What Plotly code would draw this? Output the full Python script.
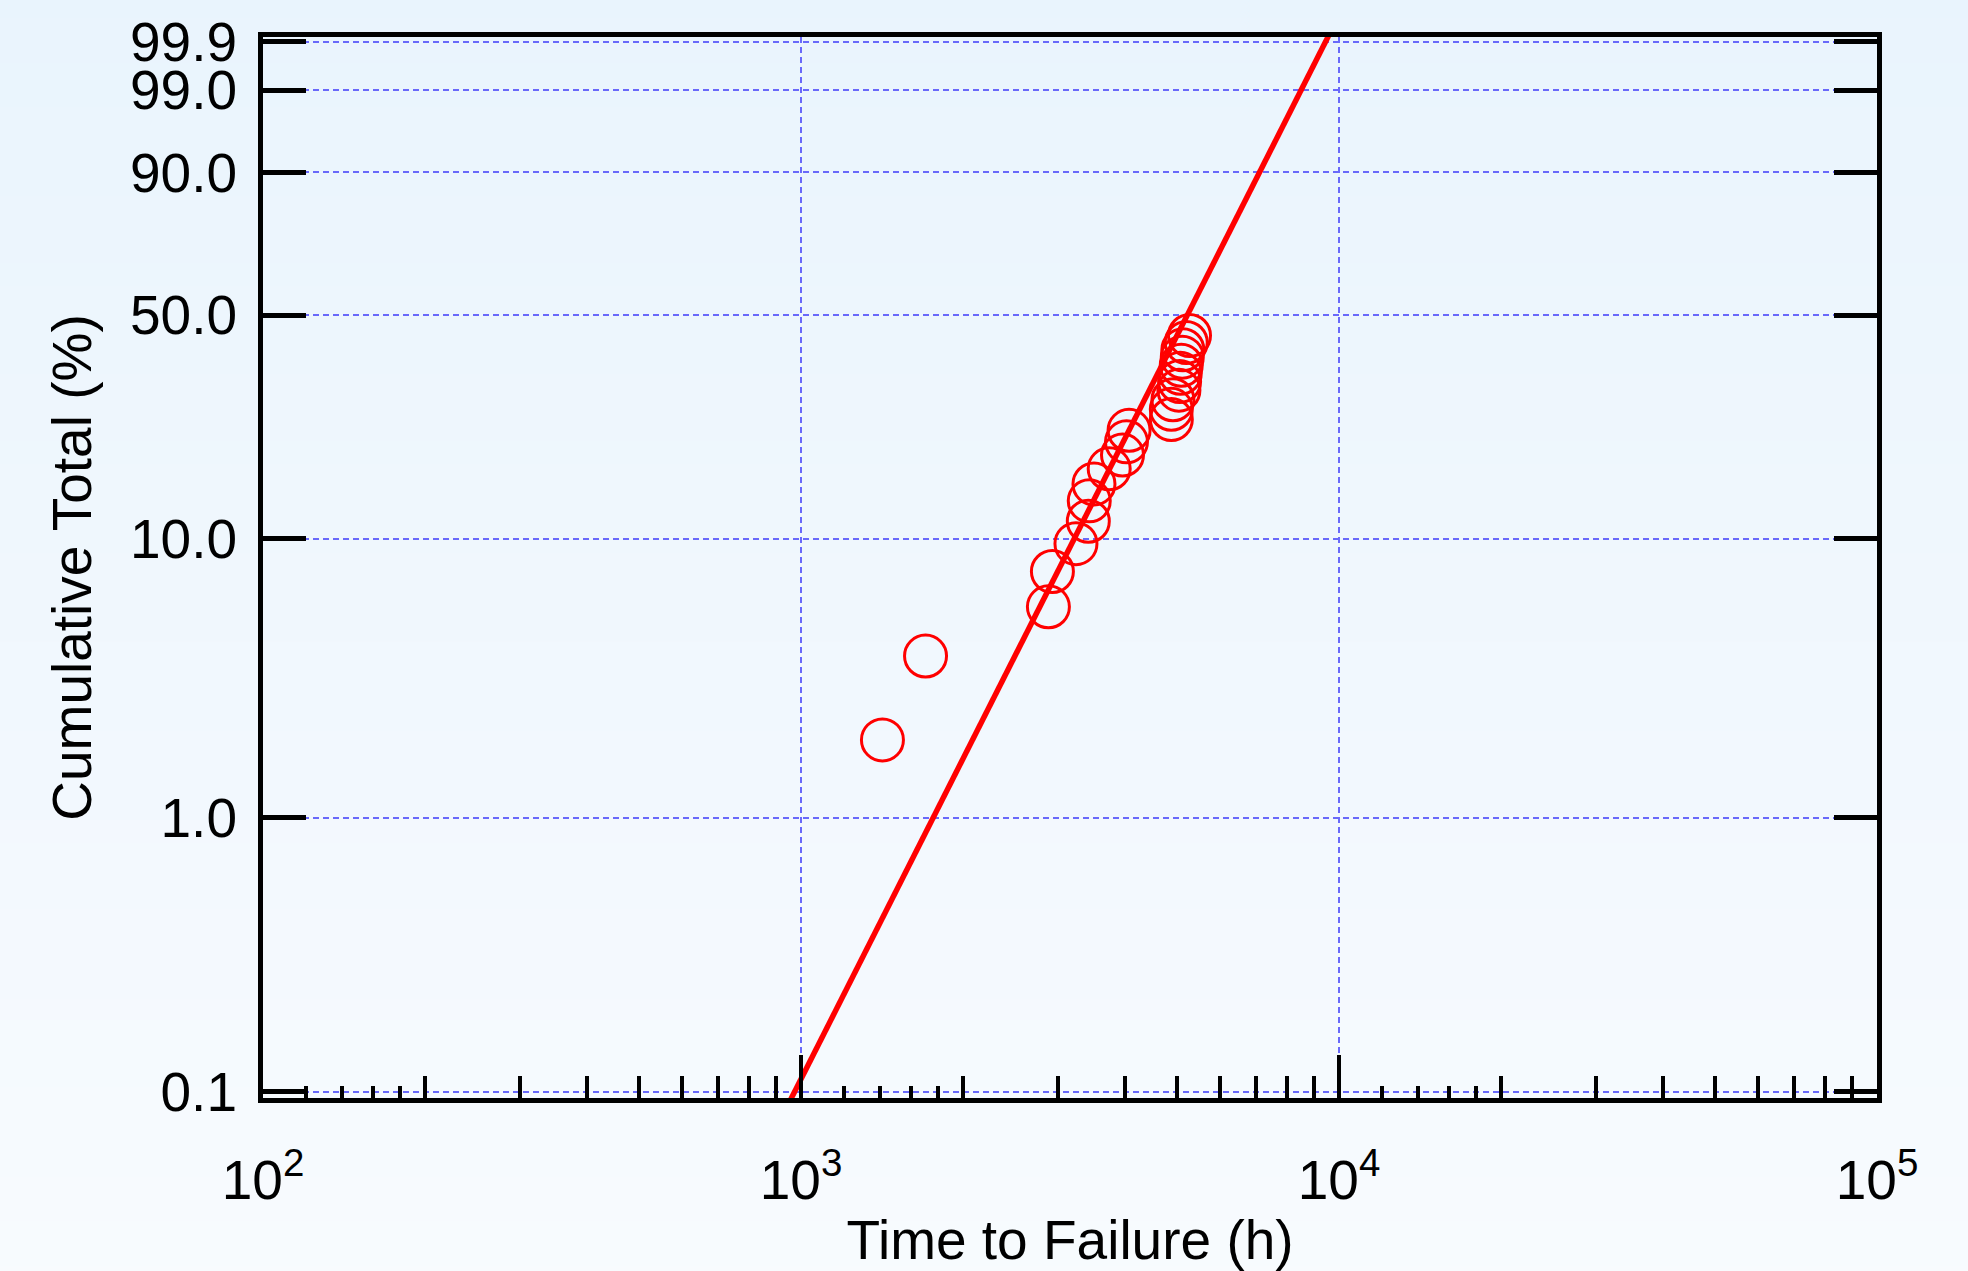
import math
import plotly.graph_objects as go

# ---------------- data ----------------
time_h = [1417, 1704, 2883, 2933, 3244, 3420, 3434, 3504, 3740, 3959, 4027, 4072,
          4879, 4879, 4913, 5040, 5055, 5070, 5091, 5113, 5126, 5201, 5274]
cum_pct = [1.92, 3.85, 5.77, 7.69, 9.62, 11.5, 13.5, 15.4, 17.3, 19.2, 21.2, 23.1,
           25.0, 26.9, 28.8, 30.8, 32.7, 34.6, 36.5, 38.5, 40.4, 42.3, 44.2]

# Weibull fit parameters
beta = 3.89
eta = 5742.0

y_tick_pct = [0.1, 1.0, 10.0, 50.0, 90.0, 99.0, 99.9]
y_tick_text = ["0.1", "1.0", "10.0", "50.0", "90.0", "99.0", "99.9"]
x_major = [100, 1000, 10000, 100000]
x_major_text = ["10<sup>2</sup>", "10<sup>3</sup>", "10<sup>4</sup>", "10<sup>5</sup>"]
x_minor_long = [m * d for d in (100, 1000, 10000) for m in (2, 3, 4, 5, 6, 7, 8, 9)]
x_minor_short = [m * d for d in (100, 1000, 10000) for m in (1.2, 1.4, 1.6, 1.8)]


def weib(p):
    """Weibull probability-paper scale: ln(-ln(1-F))."""
    return math.log(-math.log(1.0 - p / 100.0))


y_pts = [weib(p) for p in cum_pct]
y_ticks = [weib(p) for p in y_tick_pct]

# fitted line across the full vertical range
w_line = [-7.3, 2.3]
t_line = [eta * math.exp(w / beta) for w in w_line]

Y_RANGE = [-6.958, 1.974]
X_RANGE = [2, 5]

FONT = "Liberation Sans, Arial, Helvetica, sans-serif"
GRID = "rgb(105,105,250)"

fig = go.Figure()

fig.add_trace(go.Scatter(
    x=t_line, y=w_line, mode="lines",
    line=dict(color="rgb(255,0,0)", width=5.5),
    hoverinfo="skip", showlegend=False,
))
fig.add_trace(go.Scatter(
    x=time_h, y=y_pts, mode="markers",
    marker=dict(symbol="circle-open", size=42, color="rgb(255,0,0)",
                line=dict(color="rgb(255,0,0)", width=3)),
    text=[f"{p}%" for p in cum_pct],
    showlegend=False,
))
# helper trace to carry the overlay axis for the short minor ticks
fig.add_trace(go.Scatter(
    x=[1000], y=[0], xaxis="x2", mode="markers",
    marker=dict(opacity=0), hoverinfo="skip", showlegend=False,
))

# background gradient (light blue at top to near-white at bottom)
top_c = (233, 244, 253)
bot_c = (248, 251, 254)
n_strips = 60
y_lo, y_hi = -0.20, 1.06
shapes = []
for i in range(n_strips):
    f0 = i / n_strips
    f1 = (i + 1) / n_strips
    fm = (f0 + f1) / 2
    c = tuple(round(bot_c[k] + (top_c[k] - bot_c[k]) * fm) for k in range(3))
    shapes.append(dict(
        type="rect", xref="paper", yref="paper", layer="below",
        x0=-0.25, x1=1.1,
        y0=y_lo + (y_hi - y_lo) * f0, y1=y_lo + (y_hi - y_lo) * f1 + 0.002,
        fillcolor=f"rgb{c}", line=dict(width=0),
    ))

fig.update_layout(
    width=1968, height=1271,
    margin=dict(l=263, r=91, t=37, b=173, autoexpand=False),
    paper_bgcolor="rgb(248,251,254)",
    plot_bgcolor="rgba(0,0,0,0)",
    font=dict(family=FONT, size=55, color="black"),
    shapes=shapes,
    showlegend=False,
    xaxis=dict(
        type="log", range=X_RANGE, autorange=False,
        tickmode="array", tickvals=x_major, ticktext=x_major_text,
        ticks="inside", ticklen=43, tickwidth=4, tickcolor="black",
        ticklabelstandoff=30,
        tickfont=dict(family=FONT, size=55),
        showline=True, linewidth=5, linecolor="black", mirror=True,
        showgrid=True, gridcolor=GRID, gridwidth=1.5, griddash="6px,4px",
        zeroline=False,
        minor=dict(tickmode="array", tickvals=x_minor_long, ticks="inside",
                   ticklen=22, tickwidth=4, tickcolor="black", showgrid=False),
        title=dict(text="Time to Failure (h)", font=dict(family=FONT, size=55),
                   standoff=15),
        automargin=False,
    ),
    xaxis2=dict(
        type="log", range=X_RANGE, autorange=False, overlaying="x", side="bottom",
        anchor="y",
        tickmode="array", tickvals=x_minor_short, ticks="inside",
        ticklen=12, tickwidth=4, tickcolor="black",
        showticklabels=False, showgrid=False, showline=False, zeroline=False,
    ),
    yaxis=dict(
        range=Y_RANGE, autorange=False,
        tickmode="array", tickvals=y_ticks, ticktext=y_tick_text,
        ticks="inside", ticklen=43, tickwidth=5, tickcolor="black",
        ticklabelstandoff=10,
        tickfont=dict(family=FONT, size=55),
        showline=True, linewidth=5, linecolor="black", mirror="ticks",
        showgrid=True, gridcolor=GRID, gridwidth=1.5, griddash="6px,4px",
        zeroline=False,
        title=dict(text="Cumulative Total (%)", font=dict(family=FONT, size=55),
                   standoff=22),
        automargin=False,
    ),
)

fig.write_html(
    "out.html",
    config={"displayModeBar": False},
    post_script="document.body.style.margin='0px';document.body.style.background='rgb(248,251,254)';",
)
